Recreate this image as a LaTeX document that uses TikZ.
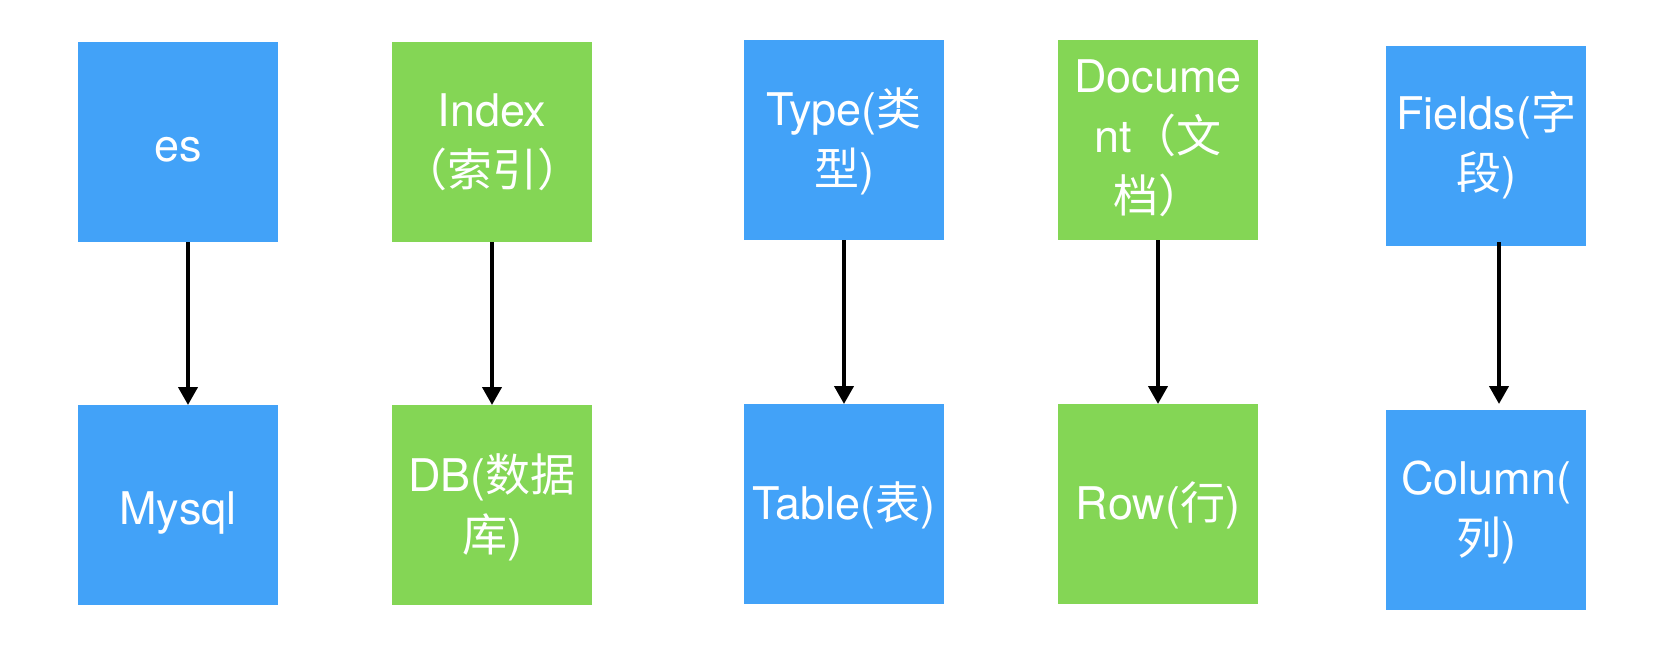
\documentclass[tikz,border=0pt]{standalone}
\usepackage{fontspec}
\setmainfont{TeX Gyre Heros}
\newfontfamily\cjkfont{Noto Sans CJK SC}
\newcommand\zhtxt[1]{{\cjkfont #1}}
\newcommand\lowtxt[2]{\raisebox{-#1}[\height][\depth]{\begin{tabular}{@{}c@{}}#2\end{tabular}}}
\usetikzlibrary{arrows.meta}
\definecolor{boxblue}{RGB}{66,162,248}
\definecolor{boxgreen}{RGB}{132,214,85}
\tikzset{
  box/.style={minimum width=200pt, minimum height=200pt, inner sep=0pt, outer sep=0pt,
    text=white, font=\fontsize{45}{60}\selectfont},
  bluebox/.style={box, fill=boxblue},
  greenbox/.style={box, fill=boxgreen},
  arr/.style={line width=4pt, -{Triangle[width=19pt,length=18pt]}}
}
\begin{document}
\begin{tikzpicture}[x=1pt,y=-1pt]
\useasboundingbox (0,0) rectangle (1660,662);
\node[bluebox]  (es)     at (178,142) {\lowtxt{7pt}{es}};
\node[bluebox]  (mysql)  at (178,505) {\lowtxt{7pt}{Mysql}};
\node[greenbox] (index)  at (492,142) {\lowtxt{2pt}{Index\\\zhtxt{（索引）}}};
\node[greenbox] (db)     at (492,505) {\lowtxt{4pt}{DB(\zhtxt{数据}\\\zhtxt{库})}};
\node[bluebox]  (type)   at (844,140) {\lowtxt{3pt}{Type(\zhtxt{类}\\\zhtxt{型})}};
\node[bluebox]  (table)  at (844,504) {\lowtxt{3pt}{Table(\zhtxt{表})}};
\node[greenbox] (doc)    at (1158,140) {\lowtxt{0pt}{Docume\\nt\zhtxt{（文}\\\zhtxt{档）}}};
\node[greenbox] (row)    at (1158,504) {\lowtxt{3pt}{Row(\zhtxt{行})}};
\node[bluebox]  (fields) at (1486,146) {\lowtxt{1pt}{Fields(\zhtxt{字}\\\zhtxt{段})}};
\node[bluebox]  (column) at (1486,510) {\lowtxt{2pt}{Column(\\\zhtxt{列})}};
\draw[arr] ([xshift=10pt]es.south) -- ([xshift=10pt]mysql.north);
\draw[arr] (index.south) -- (db.north);
\draw[arr] (type.south) -- (table.north);
\draw[arr] (doc.south) -- (row.north);
\draw[arr] ([xshift=13pt,yshift=4pt]fields.south) -- ([xshift=13pt,yshift=6pt]column.north);
\end{tikzpicture}
\end{document}
